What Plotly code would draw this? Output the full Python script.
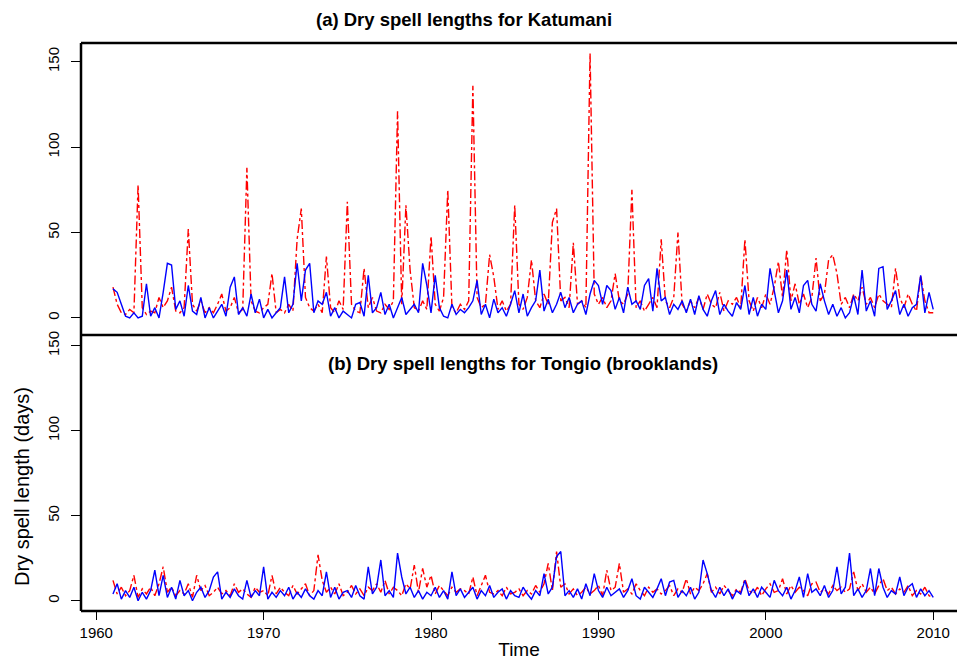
import numpy as np
import plotly.graph_objects as go

# quarterly time grid 1961.00 .. 2010.00
start_year = 1961
step = 0.25

kat_obs = [
    18, 8, 3, 2,   5, 3, 78, 6,   2, 4, 3, 12,   6, 10, 18, 4,   3, 6, 52, 8,
    4, 10, 3, 6,   3, 8, 14, 4,   6, 12, 3, 5,   88, 10, 4, 3,   6, 8, 26, 3,
    5, 3, 8, 4,   46, 64, 12, 6,   4, 8, 3, 36,   6, 3, 10, 5,   68, 8, 4, 3,
    29, 6, 12, 4,   3, 8, 5, 10,   121, 8, 66, 28,   6, 4, 10, 5,   48, 8, 4, 12,
    75, 6, 3, 8,   5, 10, 136, 12,   6, 8, 37, 24,   5, 10, 4, 8,   66, 8, 5, 12,
    34, 10, 6, 14,   8, 56, 64, 10,   12, 6, 44, 8,   10, 6, 155, 14,   8, 12, 6, 10,
    26, 10, 8, 14,   75, 6, 10, 4,   8, 12, 6, 46,   10, 6, 12, 50,   8, 4, 10, 6,
    12, 5, 14, 8,   6, 15, 4, 10,   8, 12, 6, 46,   10, 4, 12, 6,   14, 8, 18, 33,
    12, 40, 10, 20,   8, 14, 6, 12,   35, 10, 14, 34,   37, 26, 8, 12,   6, 14, 10, 18,
    8, 12, 6, 14,   10, 8, 6, 29,   12, 6, 14, 8,   4, 25, 10, 3,   3,
]
kat_sim = [
    17, 15, 8, 1,   0, 3, 0, 1,   20, 1, 6, 0,   15, 32, 31, 5,   10, 1, 19, 4,
    2, 12, 0, 6,   0, 4, 8, 1,   18, 24, 2, 6,   1, 14, 3, 11,   0, 5, 0, 3,
    6, 24, 3, 8,   32, 10, 28, 32,   3, 10, 8, 15,   1, 6, 0, 4,   2, 0, 8, 9,
    1, 25, 3, 6,   15, 2, 8, 0,   6, 12, 2, 5,   8, 3, 32, 19,   3, 25, 6, 1,
    0, 8, 2, 5,   3, 6, 10, 22,   2, 8, 0, 11,   3, 6, 1, 8,   16, 3, 14, 1,
    6, 10, 28, 4,   11, 3, 8, 15,   6, 12, 3, 8,   10, 2, 14, 22,   19, 8, 19, 16,
    5, 12, 3, 18,   8, 10, 5, 19,   23, 4, 29, 10,   12, 2, 8, 5,   10, 3, 11, 2,
    13, 5, 1, 10,   16, 2, 8, 4,   1, 9, 5, 19,   2, 12, 1, 8,   5, 29, 16, 3,
    10, 28, 5, 12,   3, 19, 22, 8,   4, 20, 10, 2,   8, 1, 6, 0,   3, 13, 2, 28,
    4, 10, 1, 29,   30, 5, 10, 16,   2, 8, 1, 6,   8, 25, 3, 15,   5,
]
ton_obs = [
    12, 4, 8, 3,   6, 15, 2, 7,   4, 8, 3, 10,   20, 5, 8, 3,   6, 4, 10, 2,
    15, 6, 9, 3,   5, 8, 4, 6,   3, 10, 5, 7,   4, 2, 8, 5,   6, 3, 15, 4,
    8, 5, 3, 9,   4, 7, 10, 3,   6, 27, 12, 5,   8, 4, 10, 3,   5, 9, 4, 7,
    3, 8, 6, 10,   5, 12, 4, 8,   6, 3, 10, 7,   21, 5, 19, 8,   15, 4, 9, 6,
    3, 8, 5, 7,   6, 4, 14, 3,   9, 15, 5, 4,   6, 3, 8, 4,   5, 7, 3, 6,
    4, 9, 5, 10,   22, 6, 29, 8,   10, 4, 7, 3,   5, 8, 4, 6,   9, 3, 18, 6,
    8, 22, 5, 7,   4, 10, 6, 3,   8, 5, 7, 4,   6, 9, 3, 7,   5, 13, 4, 8,
    6, 10, 16, 5,   8, 4, 9, 6,   3, 7, 5, 13,   6, 4, 8, 3,   7, 10, 5, 6,
    13, 4, 9, 5,   8, 6, 3, 10,   11, 5, 7, 4,   9, 6, 8, 5,   7, 17, 6, 10,
    5, 8, 4, 9,   13, 6, 8, 4,   7, 5, 9, 3,   6, 4, 8, 3,   2,
]
ton_sim = [
    4, 10, 1, 6,   2, 8, 0, 5,   1, 6, 18, 3,   15, 2, 8, 1,   12, 3, 6, 0,
    5, 8, 2, 6,   14, 17, 1, 5,   2, 7, 3, 1,   12, 2, 6, 3,   20, 1, 5, 2,
    6, 3, 8, 1,   5, 2, 7, 3,   1, 6, 3, 17,   2, 8, 1, 5,   6, 2, 9, 3,
    1, 20, 4, 8,   24, 3, 6, 2,   28, 14, 4, 8,   2, 6, 1, 5,   3, 8, 2, 6,
    1, 17, 3, 7,   2, 5, 8, 1,   6, 3, 9, 2,   5, 7, 1, 6,   3, 2, 8, 4,
    1, 6, 3, 16,   4, 8, 26, 29,   3, 6, 2, 7,   1, 10, 3, 16,   6, 2, 8, 3,
    5, 7, 2, 6,   13, 3, 1, 8,   5, 2, 7, 13,   3, 11, 12, 2,   6, 3, 8, 1,
    5, 24, 16, 6,   2, 8, 3, 7,   1, 6, 4, 12,   3, 7, 2, 8,   5, 2, 12, 6,
    3, 8, 1, 6,   14, 2, 16, 5,   7, 3, 9, 2,   6, 20, 4, 8,   28, 3, 7, 2,
    6, 19, 3, 19,   8, 2, 6, 4,   14, 3, 8, 10,   2, 7, 3, 6,   2,
]
x_tick_years = [1960, 1970, 1980, 1990, 2000, 2010]
y_ticks = [0, 50, 100, 150]

t = start_year + step * np.arange(len(kat_obs))

FONT = "Liberation Sans, Arial, sans-serif"
RED = "#ff0000"
BLUE = "#0000ff"

fig = go.Figure()
fig.add_trace(go.Scatter(x=t, y=kat_obs, mode="lines", line=dict(color=RED, width=1.4, dash="dashdot"),
                         xaxis="x", yaxis="y", showlegend=False))
fig.add_trace(go.Scatter(x=t, y=kat_sim, mode="lines", line=dict(color=BLUE, width=1.4),
                         xaxis="x", yaxis="y", showlegend=False))
fig.add_trace(go.Scatter(x=t, y=ton_obs, mode="lines", line=dict(color=RED, width=1.4, dash="dashdot"),
                         xaxis="x2", yaxis="y2", showlegend=False))
fig.add_trace(go.Scatter(x=t, y=ton_sim, mode="lines", line=dict(color=BLUE, width=1.4),
                         xaxis="x2", yaxis="y2", showlegend=False))

W, H = 957, 661
mt, mb, ml, mr = 43, 50, 81, 0
split = (611 - 335) / (611 - 43)
xr = [1959.09, 2011.42]

yax = dict(tickvals=y_ticks, ticktext=[str(v) for v in y_ticks], ticks="outside", ticklen=9, tickwidth=1.2,
           tickcolor="black", tickangle=-90, showgrid=False, zeroline=False, showline=False,
           tickfont=dict(family=FONT, size=15, color="black"), ticklabelstandoff=6)

fig.update_layout(
    width=W, height=H, margin=dict(l=ml, r=mr, t=mt, b=mb),
    paper_bgcolor="white", plot_bgcolor="white",
    xaxis=dict(domain=[0, 1], anchor="y", range=xr, showticklabels=False, ticks="", showgrid=False,
               zeroline=False, showline=False, matches="x2"),
    yaxis=dict(domain=[split, 1], anchor="x", range=[-10, 161], **yax),
    xaxis2=dict(domain=[0, 1], anchor="y2", range=xr, tickvals=x_tick_years, ticks="outside", ticklen=8,
                tickwidth=1.2, tickcolor="black", showgrid=False, zeroline=False, showline=False,
                tickfont=dict(family=FONT, size=15, color="black"),
                title=dict(text="Time", font=dict(family=FONT, size=19, color="black"), standoff=2)),
    yaxis2=dict(domain=[0, split], anchor="x2", range=[-6, 156.3], **yax),
    shapes=[
        dict(type="line", xref="paper", yref="paper", x0=0, x1=1, y0=1, y1=1, line=dict(color="black", width=2.5)),
        dict(type="line", xref="paper", yref="paper", x0=0, x1=1, y0=split, y1=split, line=dict(color="black", width=2.5)),
        dict(type="line", xref="paper", yref="paper", x0=0, x1=1, y0=0, y1=0, line=dict(color="black", width=2.5)),
        dict(type="line", xref="paper", yref="paper", x0=0, x1=0, y0=0, y1=1, line=dict(color="black", width=2.5)),
    ],
    annotations=[
        dict(text="<b>(a) Dry spell lengths for Katumani</b>", xref="paper", yref="paper",
             x=(464 - ml) / (W - ml), y=1 + (43 - 20) / (H - mt - mb), xanchor="center", yanchor="middle",
             showarrow=False, font=dict(family=FONT, size=18.5, color="black")),
        dict(text="<b>(b) Dry spell lengths for Tongio (brooklands)</b>", xref="paper", yref="paper",
             x=(523 - ml) / (W - ml), y=(611 - 363) / (H - mt - mb), xanchor="center", yanchor="middle",
             showarrow=False, font=dict(family=FONT, size=18.5, color="black")),
        dict(text="Dry spell length (days)", xref="paper", yref="paper",
             x=-(ml - 22) / (W - ml), y=(611 - 487) / (H - mt - mb), xanchor="center", yanchor="middle",
             textangle=-90, showarrow=False, font=dict(family=FONT, size=20, color="black")),
    ],
)

fig.write_html("out.html")
